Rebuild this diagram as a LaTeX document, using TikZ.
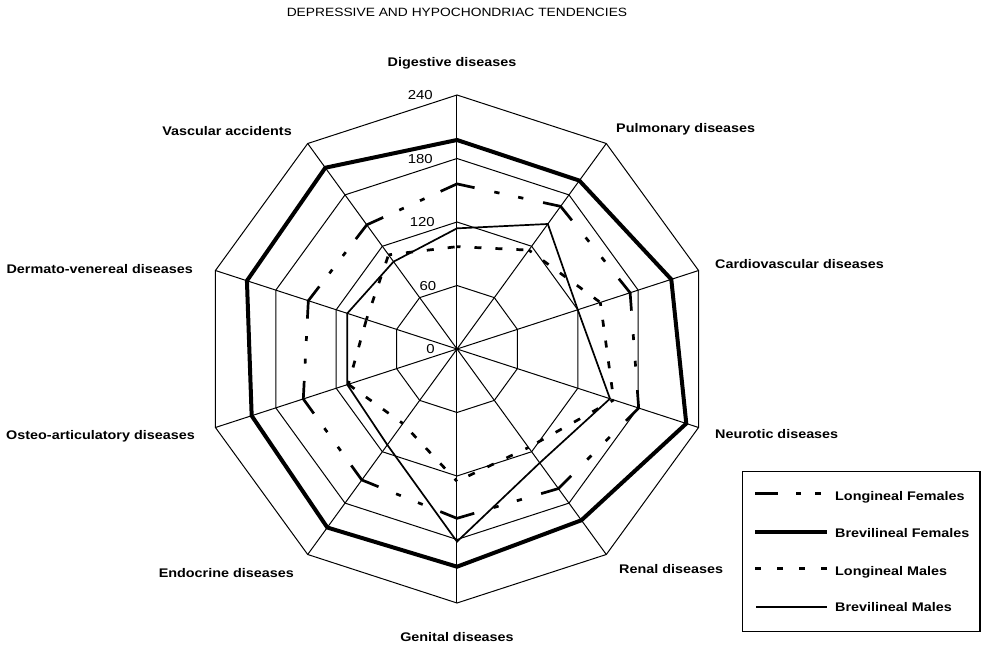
\documentclass[tikz,border=0pt]{standalone}
\usepackage{fontspec}
\setmainfont[FakeStretch=1.15]{Liberation Sans}
\usetikzlibrary{calc}
\begin{document}
\begin{tikzpicture}[x=1pt,y=1pt,
  grid/.style={line width=1pt, line join=miter},
  bfline/.style={line width=4pt, line join=miter},
  lfline/.style={line width=2.7pt, line join=miter},
  lmline/.style={line width=2.7pt, dash pattern=on 7pt off 14pt, dash phase=3.5pt},
  bmline/.style={line width=1.7pt, line join=miter},
  lab/.style={font=\bfseries\fontsize{12.5}{14}\selectfont, inner sep=0pt},
  num/.style={font=\fontsize{13}{15}\selectfont, inner sep=0pt},
  ttl/.style={font=\fontsize{12}{14}\selectfont, inner sep=0pt},
  legbox/.style={line width=1.2pt},
]
\useasboundingbox (-457,-297) rectangle (526,349);
\coordinate (c) at (0,0);
\foreach \k in {0,...,9} \coordinate (o\k) at ({90-36*\k}:254);
% rings
\foreach \r in {63.5,127,190.5,254}
  \draw[grid] (90:\r) -- (54:\r) -- (18:\r) -- (-18:\r) -- (-54:\r) -- (-90:\r)
     -- (-126:\r) -- (-162:\r) -- (162:\r) -- (126:\r) -- cycle;
% spokes
\foreach \k in {0,...,9} \draw[grid] (c) -- (o\k);

% data points
\foreach \v [count=\i from 0] in {197.5,196.7,212.9,227.8,200,205.7,208.5,204,208.7,211.7}
  \coordinate (bf\i) at ({90-36*\i}:{\v*1.0583});
\foreach \v [count=\i from 0] in {156,166.6,172,180.5,163,160,153,152.7,147.7,145}
  \coordinate (lf\i) at ({90-36*\i}:{\v*1.0583});
\foreach \v [count=\i from 0] in {96.7,115.5,142.4,155.7,115,125,87,108,90,110}
  \coordinate (lm\i) at ({90-36*\i}:{\v*1.0583});
\foreach \v [count=\i from 0] in {114,146,120,152,133,182,112,109,109,102}
  \coordinate (bm\i) at ({90-36*\i}:{\v*1.0583});

% Brevilineal Females
\draw[bfline] (bf0) -- (bf1) -- (bf2) -- (bf3) -- (bf4) -- (bf5) -- (bf6) -- (bf7) -- (bf8) -- (bf9) -- cycle;
% Brevilineal Males
\draw[bmline] (bm0) -- (bm1) -- (bm2) -- (bm3) -- (bm4) -- (bm5) -- (bm6) -- (bm7) -- (bm8) -- (bm9) -- cycle;
% Longineal Females
\foreach \i in {0,...,9} {
  \pgfmathtruncatemacro\prv{mod(\i+9,10)}
  \pgfmathtruncatemacro\nxt{mod(\i+1,10)}
  \draw[lfline] ($(lf\i)!18pt!(lf\prv)$) -- (lf\i) -- ($(lf\i)!18pt!(lf\nxt)$);
  \draw[lfline] ($(lf\i)!0.36!(lf\nxt)$) -- ($(lf\i)!0.41!(lf\nxt)$);
  \draw[lfline] ($(lf\i)!0.59!(lf\nxt)$) -- ($(lf\i)!0.64!(lf\nxt)$);
}
% Longineal Males
\foreach \i in {0,...,9} {
  \pgfmathtruncatemacro\nxt{mod(\i+1,10)}
  \draw[lmline] (lm\i) -- (lm\nxt);
}

% scale numbers
\node[num, anchor=east] (s0) at (-22,0) {0};
\node[num, anchor=east] (s60) at (-20.5,63) {60};
\node[num, anchor=east] (s120) at (-22,127) {120};
\node[num, anchor=east] (s180) at (-24,190) {180};
\node[num, anchor=east] (s240) at (-24,254) {240};

% title
\node[ttl, anchor=base] (title) at (0,332) {DEPRESSIVE AND HYPOCHONDRIAC TENDENCIES};

% axis labels
\node[lab, anchor=base] (ldig) at (-5,282) {Digestive diseases};
\node[lab, anchor=base west] (lpul) at (159,216) {Pulmonary diseases};
\node[lab, anchor=base west] (lcar) at (258,81) {Cardiovascular diseases};
\node[lab, anchor=base west] (lneu) at (258,-89) {Neurotic diseases};
\node[lab, anchor=base west] (lren) at (162,-224) {Renal diseases};
\node[lab, anchor=base] (lgen) at (0,-292.5) {Genital diseases};
\node[lab, anchor=base east] (lend) at (-163,-228) {Endocrine diseases};
\node[lab, anchor=base east] (lost) at (-262,-90) {Osteo-articulatory diseases};
\node[lab, anchor=base east] (lder) at (-264,76) {Dermato-venereal diseases};
\node[lab, anchor=base east] (lvas) at (-165,214) {Vascular accidents};

% legend
\coordinate (lgA) at (285.7,-122.7);
\coordinate (lgB) at (523,-282.7);
\draw[legbox] (lgA) rectangle (lgB);
\coordinate (la1) at (298,-144.3); \coordinate (lb1) at (365,-144.3);
\coordinate (la2) at (298,-182.7); \coordinate (lb2) at (370,-182.7);
\coordinate (la3) at (298,-219.7); \coordinate (lb3) at (370,-219.7);
\coordinate (la4) at (299,-257.7); \coordinate (lb4) at (370,-257.7);
\draw[line width=2.7pt, dash pattern=on 23pt off 18pt on 5pt off 14pt on 6pt off 10pt] (la1) -- (lb1);
\draw[bfline] (la2) -- (lb2);
\draw[line width=2.7pt, dash pattern=on 6pt off 16pt] (la3) -- (lb3);
\draw[bmline] (la4) -- (lb4);
\node[lab, anchor=base west] (t1) at (378,-151) {Longineal Females};
\node[lab, anchor=base west] (t2) at (378,-188.3) {Brevilineal Females};
\node[lab, anchor=base west] (t3) at (378,-226) {Longineal Males};
\node[lab, anchor=base west] (t4) at (378,-262.7) {Brevilineal Males};
\end{tikzpicture}
\end{document}
